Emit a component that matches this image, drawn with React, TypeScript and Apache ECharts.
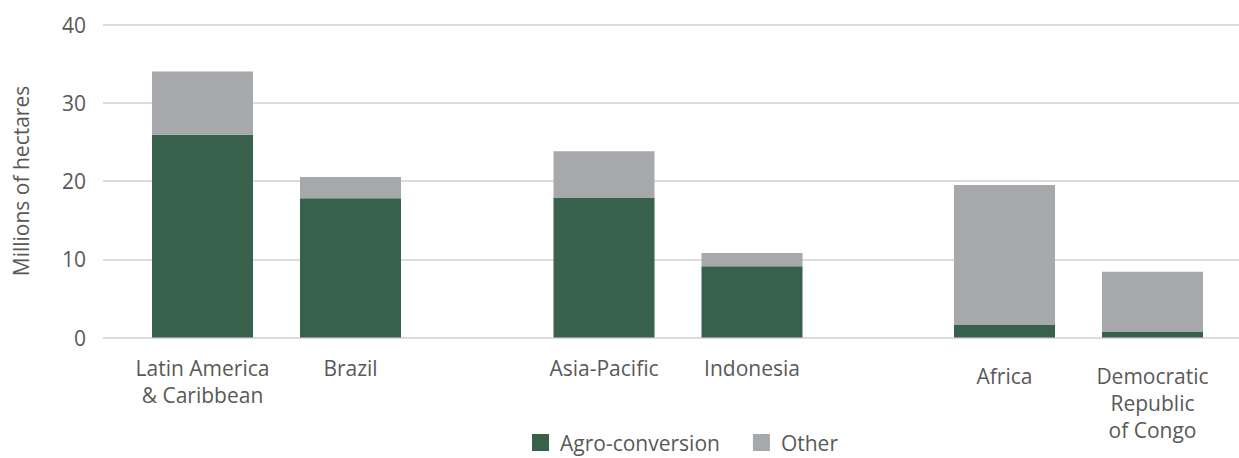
import React, { useEffect, useRef } from "react";
import * as echarts from "echarts";

// Regions and the largest country within each, shown in pairs
const categories = [
  "Latin America\n& Caribbean",
  "Brazil",
  "Asia-Pacific",
  "Indonesia",
  "Africa",
  "Democratic\nRepublic\nof Congo",
];
// Millions of hectares
const agroConversion = [25.9, 17.8, 17.9, 9.1, 1.6, 0.7];
const other = [8.1, 2.7, 5.9, 1.7, 17.9, 7.7];
const yTicks = [0, 10, 20, 30, 40];

const GREEN = "#37614a";
const GREY = "#a7a8ab";
const TEXT = "#595959";
const FONT = "Open Sans";
const FONT_SIZE = 21;

export default function App() {
  const ref = useRef<HTMLDivElement>(null);

  useEffect(() => {
    if (!ref.current) return;
    const chart = echarts.init(ref.current, undefined, { renderer: "svg" });

    const plotTop = 24.5;
    const plotBottom = 458 - 337.5;
    const groupLefts = [128.5, 530, 930.5];
    const groupWidth = 296;
    const labelMargins = [17, 17, 25];

    const grids: any[] = [
      { left: 103, right: 0, top: plotTop, bottom: plotBottom },
      ...groupLefts.map((l) => ({ left: l, width: groupWidth, top: plotTop, bottom: plotBottom })),
    ];

    const xAxes: any[] = [
      { gridIndex: 0, type: "value", min: 0, max: 1, show: false },
      ...groupLefts.map((_, g) => ({
        gridIndex: g + 1,
        type: "category",
        data: categories.slice(g * 2, g * 2 + 2),
        axisLine: { show: false },
        axisTick: { show: false },
        axisLabel: {
          color: TEXT,
          fontFamily: FONT,
          fontSize: FONT_SIZE,
          lineHeight: 27,
          margin: labelMargins[g],
          interval: 0,
        },
      })),
    ];

    const yAxes: any[] = [
      {
        gridIndex: 0,
        type: "value",
        min: yTicks[0],
        max: yTicks[yTicks.length - 1],
        interval: 10,
        name: "Millions of hectares",
        nameLocation: "middle",
        nameGap: 72,
        nameTextStyle: { color: TEXT, fontFamily: FONT, fontSize: FONT_SIZE },
        axisLine: { show: false },
        axisTick: { show: false },
        axisLabel: { color: TEXT, fontFamily: FONT, fontSize: FONT_SIZE, margin: 17 },
        splitLine: { show: true, lineStyle: { color: "#dcdcdc", width: 2 } },
      },
      ...groupLefts.map((_, g) => ({
        gridIndex: g + 1,
        type: "value",
        min: yTicks[0],
        max: yTicks[yTicks.length - 1],
        show: false,
        splitLine: { show: false },
      })),
    ];

    const series: any[] = [];
    groupLefts.forEach((_, g) => {
      const idx = g + 1;
      series.push({
        name: "Agro-conversion",
        type: "bar",
        stack: "total" + g,
        xAxisIndex: idx,
        yAxisIndex: idx,
        barWidth: 101,
        itemStyle: { color: GREEN },
        data: agroConversion.slice(g * 2, g * 2 + 2),
      });
      series.push({
        name: "Other",
        type: "bar",
        stack: "total" + g,
        xAxisIndex: idx,
        yAxisIndex: idx,
        barWidth: 101,
        itemStyle: { color: GREY },
        data: other.slice(g * 2, g * 2 + 2),
      });
    });

    chart.setOption({
      animation: false,
      backgroundColor: "#ffffff",
      grid: grids,
      xAxis: xAxes,
      yAxis: yAxes,
      legend: {
        left: 527,
        top: 427,
        itemWidth: 17,
        itemHeight: 17,
        itemGap: 33,
        icon: "rect",
        data: ["Agro-conversion", "Other"],
        textStyle: { color: TEXT, fontFamily: FONT, fontSize: FONT_SIZE, padding: [0, 0, 0, 6] },
      },
      series,
    });

    return () => chart.dispose();
  }, []);

  return (
    <div
      ref={ref}
      style={{ position: "fixed", left: 0, top: 0, width: 1239, height: 458 }}
    />
  );
}
